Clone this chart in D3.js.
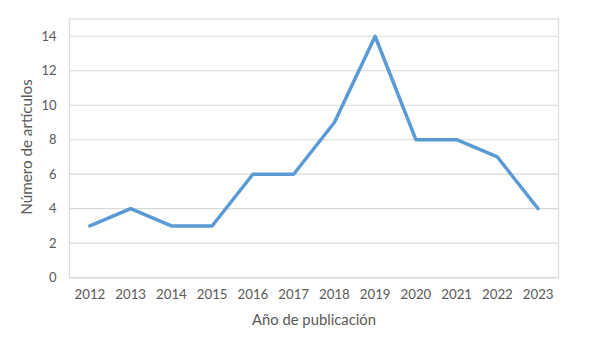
<!DOCTYPE html>
<html><head><meta charset="utf-8">
<script src="https://cdn.jsdelivr.net/npm/d3@7"></script>
<style>body{margin:0;background:#fff;} svg{display:block;font-family:Lato,"Open Sans",sans-serif;}</style>
</head><body>
<svg id="c" width="589" height="342"></svg>
<script>
const years = ["2012","2013","2014","2015","2016","2017","2018","2019","2020","2021","2022","2023"];
const articles = [3,4,3,3,6,6,9,14,8,8,7,4];
const yTicks = [0,2,4,6,8,10,12,14];

const svg = d3.select("#c");
const m = {l:69.5, r:558.5, t:19, b:277.7};
const x = d3.scaleBand().domain(years).range([m.l, m.r]);
const y = d3.scaleLinear().domain([0,15]).range([m.b, m.t]);

// grid
svg.append("g").selectAll("line").data(yTicks).join("line")
  .attr("x1", m.l).attr("x2", m.r)
  .attr("y1", d=>y(d)).attr("y2", d=>y(d))
  .attr("stroke", "#d9d9d9").attr("stroke-width", 1.2);
svg.append("rect").attr("x", m.l).attr("y", m.t).attr("width", m.r-m.l).attr("height", m.b-m.t)
  .attr("fill","none").attr("stroke","#d9d9d9").attr("stroke-width",1.2);

// y axis
const ya = svg.append("g").attr("transform", `translate(${m.l},0)`)
  .call(d3.axisLeft(y).tickValues(yTicks).tickSize(0).tickPadding(13));
ya.select(".domain").remove();
ya.selectAll("text").attr("font-size", 13).attr("fill", "#595959").attr("font-family","Lato,sans-serif");

// x axis
const xa = svg.append("g").attr("transform", `translate(0,${m.b})`)
  .call(d3.axisBottom(x).tickSize(0).tickPadding(12));
xa.select(".domain").remove();
xa.selectAll("text").attr("font-size", 13.3).attr("fill", "#595959").attr("font-family","Lato,sans-serif");

// line
const line = d3.line().x((d,i)=>x(years[i])+x.bandwidth()/2).y(d=>y(d));
svg.append("path").datum(articles).attr("d", line)
  .attr("fill","none").attr("stroke","#5b9bd5").attr("stroke-width",3.5)
  .attr("stroke-linejoin","round").attr("stroke-linecap","round");

// titles
svg.append("text").attr("x", 314).attr("y", 325).attr("text-anchor","middle")
  .attr("font-size", 14.8).attr("fill","#595959").text("Año de publicación");
svg.append("text").attr("transform","translate(32,147) rotate(-90)").attr("text-anchor","middle")
  .attr("font-size", 15.2).attr("fill","#595959").text("Número de artículos");
</script>
</body></html>
